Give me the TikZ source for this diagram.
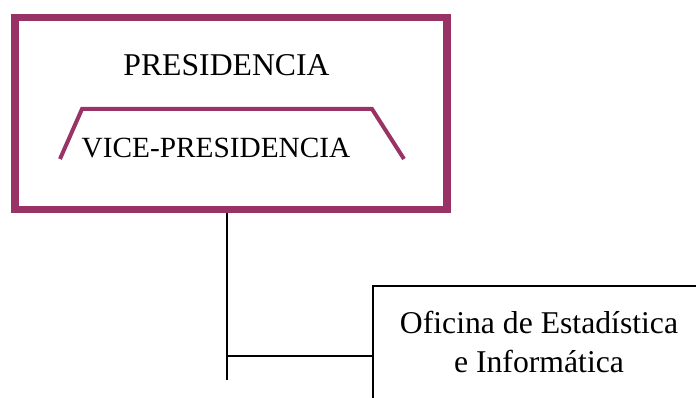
\documentclass[tikz,border=0pt]{standalone}
\usepackage{fontspec}
\setmainfont{Liberation Serif}
\definecolor{plum}{HTML}{993366}
\begin{document}
\begin{tikzpicture}[x=1pt,y=-1pt,
  lbl/.style={font=\fontsize{31.7}{38}\selectfont, anchor=base, inner sep=0pt},
  conn/.style={draw=black, line width=2pt}]
\useasboundingbox (0,0) rectangle (696,398);
\clip (0,0) rectangle (696,398);
% presidency frame
\node[draw=plum, line width=7.5pt, minimum width=432pt, minimum height=192pt, inner sep=0pt, anchor=north west] (pres) at (11,14) {};
\draw[plum, line width=4pt] (60,159) -- (82,109) -- (372,109) -- (404,159);
\node[lbl] (ptxt) at (226.5,76) {PRESIDENCIA};
\node[lbl, font=\fontsize{29.3}{35}\selectfont] (vtxt) at (216,158) {VICE-PRESIDENCIA};
% office box (extends past the edges)
\node[draw=black, line width=2pt, minimum width=360pt, minimum height=140pt, inner sep=0pt, anchor=north west] (ofi) at (372,285) {};
\node[lbl] (o1) at (539,333) {Oficina de Estadística};
\node[lbl] (o2) at (539,372) {e Informática};
% connectors
\coordinate (top) at (227,213);
\coordinate (bot) at (227,380);
\coordinate (junc) at (227,356);
\draw[conn] (top) -- (bot);
\draw[conn] (junc) -- (junc -| ofi.west);
\end{tikzpicture}
\end{document}
